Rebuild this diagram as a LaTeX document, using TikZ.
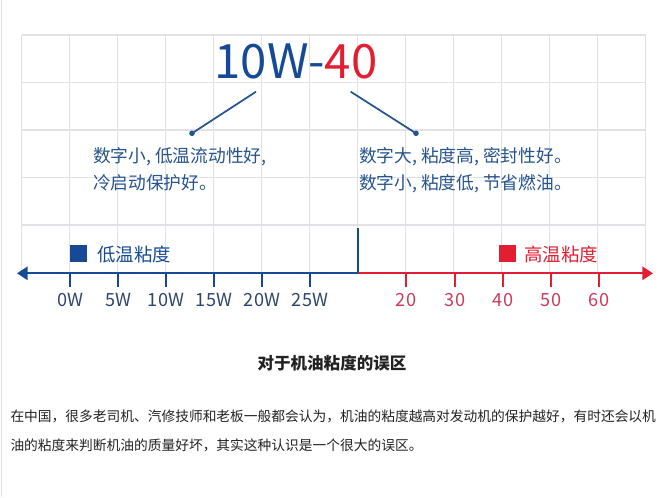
\documentclass[tikz,border=0pt]{standalone}
\usepackage{fontspec}
\setmainfont{Noto Sans CJK SC}
\usetikzlibrary{arrows.meta}

\definecolor{lowblue}{RGB}{22,74,150}
\definecolor{highred}{RGB}{226,30,50}
\definecolor{noteblue}{RGB}{38,84,140}
\definecolor{ticklabelblue}{RGB}{48,68,112}
\definecolor{ticklabelred}{RGB}{206,58,88}
\definecolor{gridgrey}{RGB}{226,226,230}
\definecolor{bodytext}{RGB}{34,34,34}

\tikzset{every picture/.style={line width=0.75pt}}
\tikzset{
  gridline/.style={draw=gridgrey, line width=0.9pt},
  leader/.style={draw=noteblue, line width=1.3pt},
  dotmark/.style={circle, fill=noteblue, inner sep=0pt, minimum size=4.2pt},
  notetext/.style={anchor=base west, inner sep=0pt, text=noteblue, align=left,
    font=\fontsize{13.3}{20.25}\selectfont},
  legendtext/.style={anchor=base west, inner sep=0pt, font=\fontsize{13.8}{16}\selectfont},
  ticklabel/.style={anchor=base, inner sep=0pt, font=\fontsize{13.6}{16}\selectfont},
  swatch/.style={minimum size=12.75pt, inner sep=0pt}
}

\begin{document}
\begin{tikzpicture}[x=0.75pt,y=0.75pt,yscale=-1,xscale=1]
\useasboundingbox (0,0) rectangle (665,497);

% page edge
\draw [draw=gridgrey, line width=1pt] (1.5,0) -- (1.5,497) ;

% Grid
\foreach \gx in {0,...,13} \draw [gridline] (21.7+48*\gx,35) -- (21.7+48*\gx,272.5) ;
\foreach \gy in {0,...,5} \draw [gridline] (21.7,35+47.5*\gy) -- (645.7,35+47.5*\gy) ;

% Title
\node (grade) [anchor=base, inner sep=0pt, font=\fontsize{35.5}{40}\selectfont] at (296,78)
  {\textcolor{lowblue}{10W-}\textcolor{highred}{40}};

% Leader lines
\coordinate (lfrom) at (256,91.7) ;
\coordinate (rfrom) at (350.7,91.7) ;
\node (ldot) [dotmark] at (192,133.3) {} ;
\node (rdot) [dotmark] at (416,133.3) {} ;
\draw [leader] (lfrom) -- (ldot.center) ;
\draw [leader] (rfrom) -- (rdot.center) ;

% Text Node (base = last line)
\node (lownote) [notetext] at (92.5,189.3) {数字小, 低温流动性好,\\冷启动保护好。} ;
% Text Node
\node (highnote) [notetext] at (358.5,189.3) {数字大, 粘度高, 密封性好。\\数字小, 粘度低, 节省燃油。} ;

% Axis
\coordinate (ltip) at (17,273.3) ;
\coordinate (split) at (358,273.3) ;
\coordinate (rtip) at (653,273.3) ;
\coordinate (splittop) at (358,228) ;
\draw [draw=lowblue, line width=1.6pt, -{Triangle[length=8pt,width=10pt]}] (split) -- (ltip) ;
\draw [draw=highred, line width=1.6pt, -{Triangle[length=8pt,width=10pt]}] (split) -- (rtip) ;
\draw [draw=lowblue, line width=1.3pt] (split) -- (splittop) ;

% Ticks
\foreach \tx/\tl in {70/0W,118/5W,166/10W,214/15W,262/20W,310/25W} {
  \draw [draw=lowblue, line width=1.5pt] (\tx,273.3) -- (\tx,287) ;
  \node [ticklabel, text=ticklabelblue] at (\tx,306.5) {\tl} ;
}
\foreach \tx/\tl in {406/20,455/30,503/40,551/50,599/60} {
  \draw [draw=highred, line width=1.5pt] (\tx,273.3) -- (\tx,287) ;
  \node [ticklabel, text=ticklabelred] at (\tx,306.5) {\tl} ;
}

% Legend
\node (lowkey) [swatch, fill=lowblue] at (78.5,253.5) {} ;
\node (lowlabel) [legendtext, text=lowblue] at (97,261) {低温粘度} ;
\node (highkey) [swatch, fill=highred] at (507,253.5) {} ;
\node (highlabel) [legendtext, text=highred] at (524,261) {高温粘度} ;

% Caption
\node (caption) [anchor=base, inner sep=0pt, text=bodytext, font=\bfseries\fontsize{12.4}{15}\selectfont] at (332,369)
  {对于机油粘度的误区} ;
\node (para) [anchor=base west, inner sep=0pt, text=bodytext, align=left,
  font=\fontsize{10.3}{21.75}\selectfont] at (10,450.3)
  {在中国，很多老司机、汽修技师和老板一般都会认为，机油的粘度越高对发动机的保护越好，有时还会以机\\油的粘度来判断机油的质量好坏，其实这种认识是一个很大的误区。} ;

\end{tikzpicture}
\end{document}
